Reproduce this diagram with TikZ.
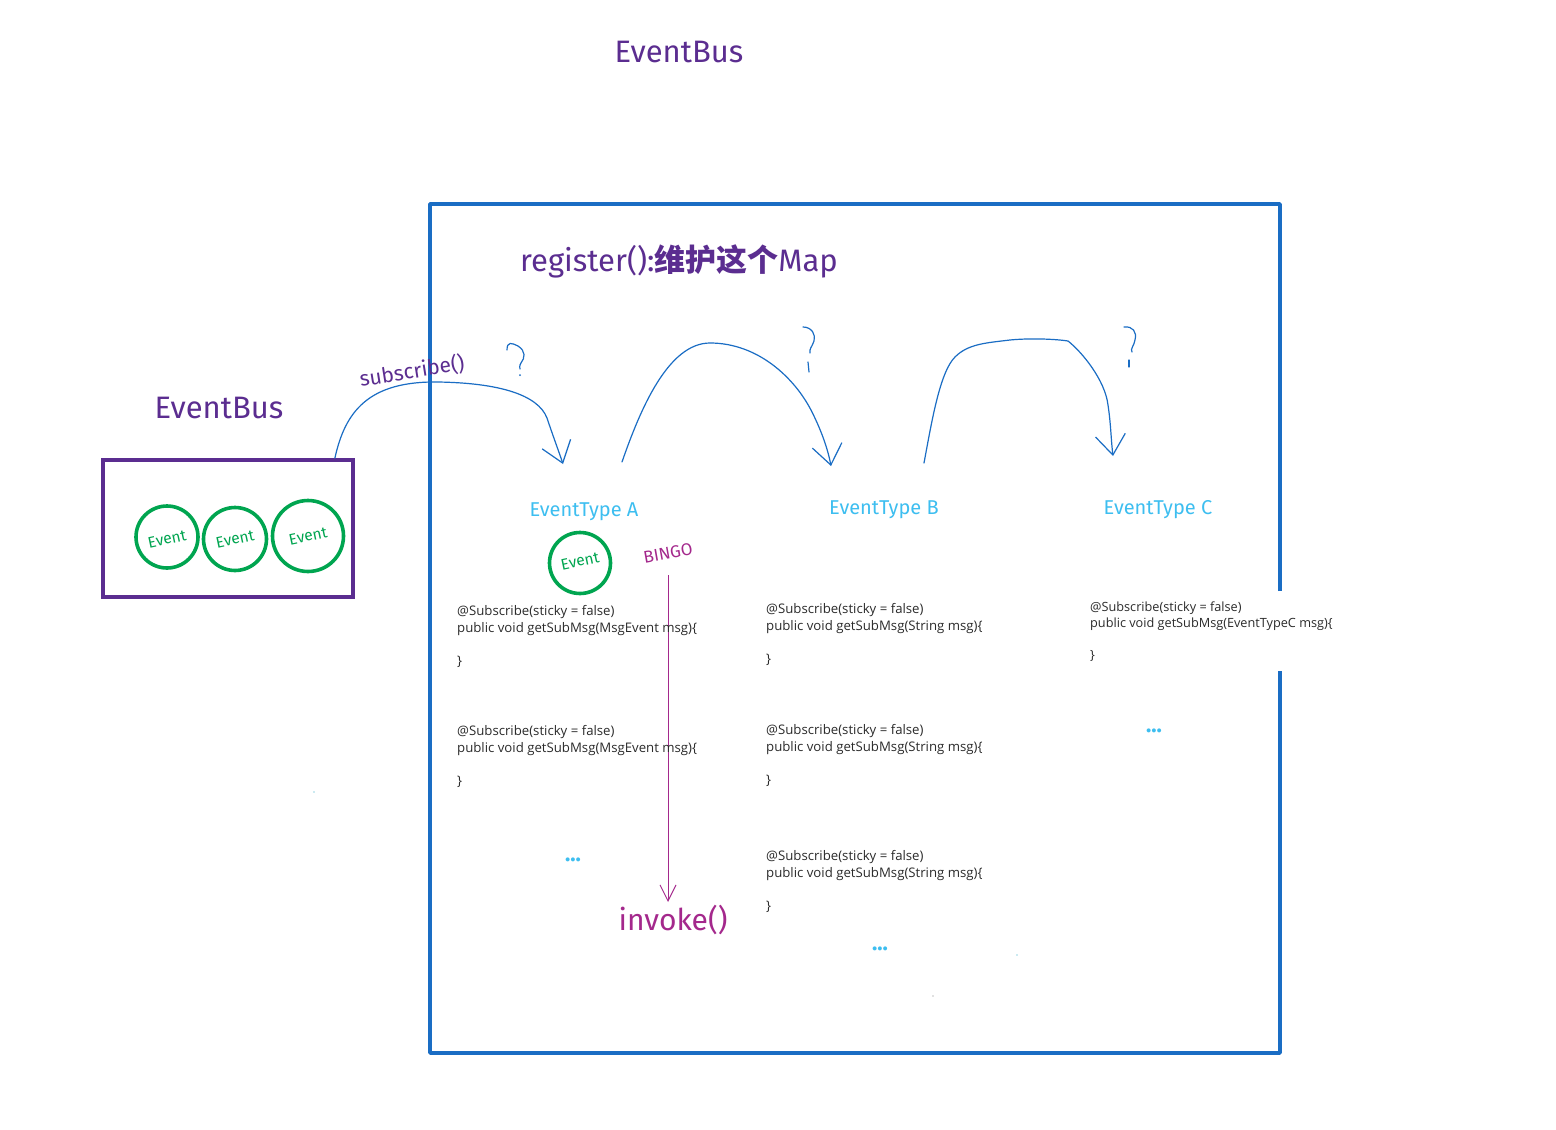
\documentclass[tikz,border=0pt]{standalone}
\usepackage{fontspec}
\setmainfont{Fira Sans}
\newfontfamily\codefont{Open Sans}
\newfontfamily\cjkfont{Noto Sans CJK SC}
\usetikzlibrary{arrows.meta}
\definecolor{bpurple}{HTML}{5B2D90}
\definecolor{bblue}{HTML}{1A6DC4}
\definecolor{lblue}{HTML}{3DBEF0}
\definecolor{egreen}{HTML}{00A550}
\definecolor{mag}{HTML}{A4288C}
\definecolor{codegray}{HTML}{2B2B2B}
\tikzset{
  hand/.style={text=bpurple, inner sep=0},
  evtcircle/.style={circle, draw=egreen, line width=3.6pt, inner sep=0},
  evtlabel/.style={text=egreen, inner sep=0, rotate=12, font=\fontsize{15.5}{17}\selectfont},
  typelabel/.style={text=lblue, inner sep=0, font=\fontsize{20}{22}\selectfont},
  codeblk/.style={anchor=north west, align=left, inner sep=0, text=codegray, font=\codefont\fontsize{13.2}{17}\selectfont},
  sketch/.style={draw=bblue, line width=1.2pt, line cap=round, line join=round},
  barb/.style={-{Straight Barb[length=20pt,width=30pt]}},
  dots/.style={text=lblue, inner sep=0, font=\bfseries\fontsize{22}{22}\selectfont}
}
\begin{document}
\begin{tikzpicture}[x=1pt,y=-1pt]
\useasboundingbox[fill=white] (0,0) rectangle (1556,1130);

% titles
\node[hand, font=\fontsize{31}{33}\selectfont] (title) at (679,52) {EventBus};
\node[hand, font=\fontsize{31}{33}\selectfont] (bustitle) at (219,408) {EventBus};
\node[hand, font=\fontsize{31}{33}\selectfont] (register) at (679,261) {register():{\cjkfont\bfseries 维护这个}Map};

% big map box (right edge broken)
\draw[draw=bblue, line width=3.4pt, line join=round]
  (1280,591) -- (1280,204) -- (430,204) -- (430,1053) -- (1280,1053) -- (1280,671);

% EventBus box
\node[draw=bpurple, line width=3.8pt, minimum width=250pt, minimum height=137pt, inner sep=0] (bus) at (228,528.5) {};
\node[evtcircle, minimum size=62pt] (e1) at (167,537) {};
\node[evtcircle, minimum size=63pt] (e2) at (235,539) {};
\node[evtcircle, minimum size=71pt] (e3) at (308,536) {};
\node[evtlabel] (e1t) at (167,539) {Event};
\node[evtlabel] (e2t) at (235,539) {Event};
\node[evtlabel] (e3t) at (308,536) {Event};

% event types
\node[typelabel] (typeA) at (584,512) {EventType A};
\node[typelabel] (typeB) at (884,510) {EventType B};
\node[typelabel] (typeC) at (1158,510) {EventType C};

% event under A
\node[evtcircle, minimum size=61pt] (ea) at (580,563) {};
\node[evtlabel] (eat) at (580,561) {Event};
\node[text=mag, inner sep=0, rotate=10, font=\fontsize{17}{19}\selectfont] (bingo) at (668,553) {BINGO};
\node[text=mag, inner sep=0, font=\fontsize{30}{32}\selectfont] (invoke) at (673,920) {invoke()};

% subscribe label
\node[hand, rotate=9, font=\fontsize{21}{23}\selectfont] (sublabel) at (412,371) {subscribe()};

% coordinates for connector ends
\coordinate (tipA) at (563,464);
\coordinate (startAB) at (622,462);
\coordinate (tipB) at (831,466);
\coordinate (startBC) at (924,463);
\coordinate (tipC) at (1113,456);
\coordinate (invstart) at (668,575);
\coordinate (invtip) at (668,902);

% connectors
\draw[sketch, barb] ([xshift=-20pt]bus.north east)
  .. controls (345,412) and (368,381) .. (438,382)
  .. controls (500,383) and (538,395) .. (547,418)
  .. controls (553,436) and (559,452) .. (tipA);
\draw[sketch, barb] (startAB)
  .. controls (640,410) and (668,343) .. (710,343)
  .. controls (758,343) and (795,378) .. (812,412)
  .. controls (822,432) and (828,450) .. (tipB);
\draw[sketch, barb] (startBC)
  .. controls (932,420) and (940,372) .. (955,357)
  .. controls (968,344) and (985,343) .. (1010,340)
  .. controls (1030,338) and (1055,339) .. (1068,341)
  .. controls (1082,352) and (1105,380) .. (1108,405)
  .. controls (1111,425) and (1111,440) .. (tipC);
\draw[draw=mag, line width=1pt, -{Straight Barb[length=16pt,width=16pt]}] (invstart) -- (invtip);

% question marks (hand-drawn)
\draw[sketch] (507,350) .. controls (507,341) and (512,343) .. (518,346)
  .. controls (526,351) and (525,358) .. (521,363) .. controls (519,366) and (520,368) .. (520,369);
\fill[bblue] (520,375) circle (1pt);
\draw[sketch] (803,327) .. controls (812,327) and (816,335) .. (814,341)
  .. controls (812,347) and (809,349) .. (810,353);
\draw[sketch] (808,362) -- (809,372);
\draw[sketch] (1124,327) .. controls (1133,326) and (1137,332) .. (1135,340)
  .. controls (1134,346) and (1130,349) .. (1132,352);
\draw[sketch] (1129,360) -- (1129,367);

% code blocks
\node[codeblk] (a1) at (457,605) {@Subscribe(sticky = false)\\public void getSubMsg(MsgEvent msg)\{\\[16pt]\}};
\node[codeblk] (a2) at (457,725) {@Subscribe(sticky = false)\\public void getSubMsg(MsgEvent msg)\{\\[16pt]\}};
\node[codeblk] (b1) at (766,603) {@Subscribe(sticky = false)\\public void getSubMsg(String msg)\{\\[16pt]\}};
\node[codeblk] (b2) at (766,724) {@Subscribe(sticky = false)\\public void getSubMsg(String msg)\{\\[16pt]\}};
\node[codeblk] (b3) at (766,850) {@Subscribe(sticky = false)\\public void getSubMsg(String msg)\{\\[16pt]\}};
\node[codeblk, font=\codefont\fontsize{12.7}{16}\selectfont] (c1) at (1090,602) {@Subscribe(sticky = false)\\public void getSubMsg(EventTypeC msg)\{\\[16pt]\}};

% ellipses
\node[dots] (dA) at (573,860) {...};
\node[dots] (dB) at (880,949) {...};
\node[dots] (dC) at (1154,731) {...};

% stray specks
\fill[lblue!60!teal] (314,792) circle (0.6pt);
\fill[lblue!60!teal] (1017,955) circle (0.6pt);
\fill[gray] (933,996) circle (0.6pt);
\end{tikzpicture}
\end{document}
